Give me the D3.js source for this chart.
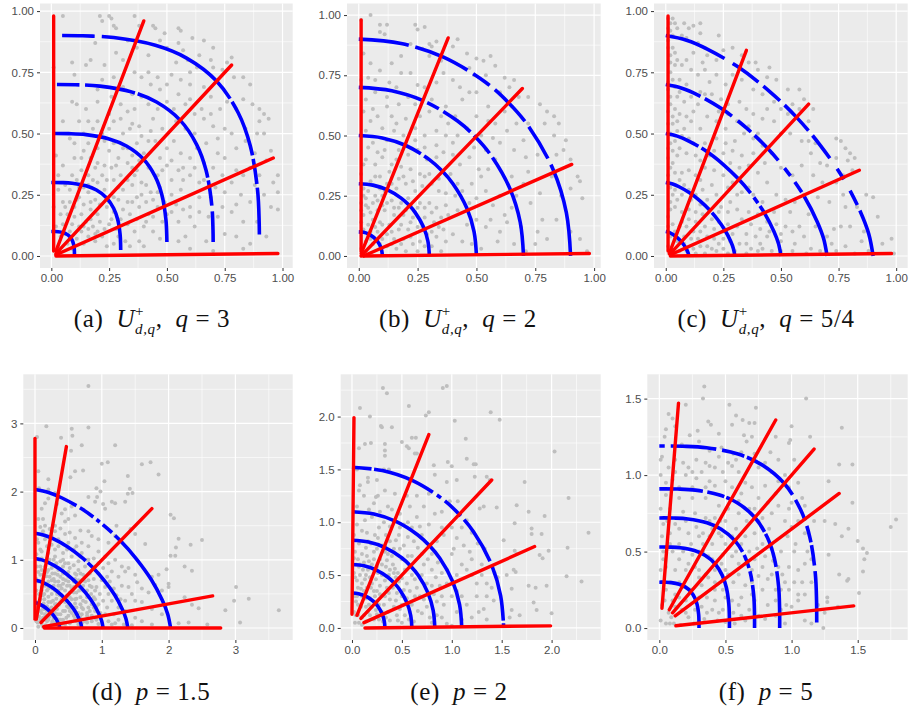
<!DOCTYPE html>
<html>
<head>
<meta charset="utf-8">
<script src="https://cdn.jsdelivr.net/npm/d3@7"></script>
<style>
  html, body { margin: 0; background: #fff; }
  svg { display: block; }
  .tick text { font-family: 'Liberation Sans', sans-serif; font-size: 11.5px; fill: #4d4d4d; }
  .tick line { stroke: #333; stroke-width: 1px; }
  .caption text { font-family: 'Liberation Serif', serif; fill: #111; }
</style>
</head>
<body>
<svg id="chart" width="909" height="711"></svg>
<script>
// grey sample points
var pointsA = [[.05,.98],[.21,.98],[.22,.96],[.25,.98],[.26,.97],[.27,.94],[.28,.93],[.36,.98],[.38,.94],[.44,.94],[.45,.93],[.49,.91],[.55,.93],[.56,.92],[.61,.89],[.55,.87],[.66,.88],[.7,.85],[.69,.8],[.78,.81],[.76,.79],[.47,.88],[.5,.85],[.57,.84],[.59,.8],[.64,.82],[.63,.77],[.7,.77],[.74,.76],[.79,.73],[.83,.73],[.86,.7],[.83,.64],[.87,.62],[.9,.6],[.92,.58],[.9,.55],[.94,.56],[.92,.5],[.95,.43],[.89,.5],[.84,.52],[.8,.6],[.76,.63],[.73,.6],[.69,.65],[.66,.69],[.6,.7],[.56,.72],[.52,.74],[.5,.7],[.47,.68],[.43,.7],[.39,.73],[.36,.75],[.31,.8],[.28,.83],[.19,.87],[.17,.8],[.23,.78],[.09,.79],[.01,.77],[.1,.74],[.15,.78],[.27,.73],[.2,.68],[.2,.63],[.09,.63],[.11,.62],[.05,.55],[.16,.55],[.15,.6],[.25,.58],[.3,.62],[.33,.59],[.36,.6],[.39,.65],[.42,.62],[.46,.6],[.5,.63],[.53,.6],[.58,.62],[.62,.58],[.66,.56],[.7,.53],[.75,.52],[.78,.5],[.84,.47],[.88,.42],[.93,.39],[.96,.3],[.98,.33],[.98,.26],[.95,.2],[.98,.19],[.88,.29],[.83,.33],[.8,.35],[.75,.4],[.72,.42],[.67,.46],[.62,.5],[.58,.52],[.54,.55],[.48,.52],[.44,.56],[.38,.53],[.34,.52],[.31,.5],[.27,.55],[.22,.5],[.18,.52],[.1,.46],[.08,.48],[.02,.41],[.05,.37],[.1,.4],[.14,.43],[.17,.4],[.2,.38],[.25,.43],[.29,.4],[.33,.44],[.37,.46],[.4,.42],[.45,.47],[.5,.44],[.53,.47],[.56,.42],[.6,.4],[.63,.44],[.66,.38],[.7,.36],[.74,.33],[.78,.3],[.82,.25],[.86,.22],[.78,.18],[.83,.14],[.8,.08],[.86,.05],[.83,.03],[.75,.09],[.72,.16],[.69,.24],[.64,.3],[.6,.33],[.55,.35],[.5,.37],[.46,.33],[.42,.36],[.38,.39],[.35,.36],[.3,.33],[.26,.36],[.22,.33],[.18,.31],[.14,.28],[.11,.31],[.08,.27],[.12,.24],[.16,.26],[.19,.23],[.23,.27],[.27,.24],[.31,.27],[.35,.29],[.39,.3],[.43,.26],[.47,.28],[.52,.25],[.56,.27],[.6,.2],[.64,.18],[.62,.12],[.67,.06],[.58,.08],[.55,.14],[.5,.17],[.46,.2],[.42,.17],[.38,.2],[.35,.22],[.31,.19],[.27,.18],[.24,.2],[.2,.17],[.17,.19],[.13,.17],[.1,.2],[.07,.17],[.05,.13],[.08,.1],[.12,.12],[.15,.14],[.18,.12],[.21,.14],[.25,.13],[.28,.11],[.33,.13],[.36,.1],[.4,.12],[.44,.1],[.47,.07],[.38,.06],[.4,.04],[.32,.06],[.27,.05],[.22,.08],[.19,.06],[.16,.08],[.14,.05],[.11,.07],[.07,.05],[.04,.08],[.03,.04],[.02,.02],[.01,.2],[.02,.12],[.55,.06],[.6,.03],[.7,.02]]
var moreA = [[.13,.35],[.16,.33],[.19,.36],[.23,.37],[.27,.31],[.29,.28],[.33,.31],[.36,.33],[.39,.25],[.41,.22],[.44,.23],[.37,.24],[.33,.22],[.29,.23],[.25,.22],[.21,.21],[.17,.22],[.14,.21],[.11,.23],[.08,.22],[.06,.2],[.04,.17],[.1,.16],[.14,.12],[.17,.15],[.2,.1],[.23,.11],[.26,.15],[.3,.15],[.34,.17],[.37,.15],[.41,.14],[.44,.16],[.48,.14],[.52,.18],[.57,.19],[.6,.16],[.54,.21],[.49,.22],[.46,.26],[.41,.29],[.37,.35],[.33,.38],[.28,.37],[.24,.31],[.2,.3],[.16,.29],[.12,.28],[.09,.33],[.06,.29],[.03,.27],[.05,.22],[.03,.33],[.13,.4],[.16,.46],[.2,.44],[.23,.47],[.27,.46],[.31,.44],[.35,.41],[.42,.47],[.47,.4],[.52,.39],[.57,.36],[.62,.36],[.66,.31],[.71,.28],[.75,.26],[.8,.21],[.74,.2],[.68,.16],[.64,.24],[.57,.31],[.52,.31],[.48,.35],[.43,.51],[.39,.49],[.35,.54],[.3,.56],[.25,.52],[.2,.55],[.14,.5],[.12,.55],[.42,.75],[.46,.73],[.55,.66],[.6,.64],[.65,.6],[.69,.58],[.72,.48],[.8,.44],[.86,.36],[.9,.33],[.92,.25],[.89,.14],[.93,.08],[.35,.66],[.31,.69],[.26,.65],[.22,.72],[.54,.79],[.6,.75],[.42,.82],[.37,.85],[.33,.88],[.13,.1],[.09,.13],[.06,.09],[.16,.11],[.19,.09],[.24,.04],[.29,.08],[.34,.04],[.09,.03]]
var pointsB = [[.05,1],[.01,.98],[.09,.96],[.12,.96],[.09,.93],[.11,.92],[.24,.96],[.25,.94],[.28,.95],[.31,.87],[.3,.88],[.33,.89],[.35,.81],[.3,.83],[.27,.86],[.42,.9],[.4,.87],[.46,.84],[.5,.82],[.47,.78],[.53,.81],[.56,.83],[.58,.79],[.49,.75],[.54,.75],[.62,.74],[.66,.73],[.64,.7],[.6,.68],[.68,.66],[.72,.66],[.77,.63],[.8,.6],[.83,.58],[.79,.55],[.85,.55],[.88,.48],[.84,.42],[.87,.44],[.9,.4],[.93,.33],[.94,.31],[.95,.24],[.9,.28],[.86,.25],[.84,.15],[.9,.1],[.94,.07],[.97,.02],[.78,.15],[.76,.1],[.8,.07],[.75,.05],[.62,.17],[.6,.1],[.59,.06],[.63,.14],[.67,.25],[.7,.3],[.72,.35],[.71,.41],[.7,.48],[.66,.44],[.72,.55],[.67,.55],[.63,.52],[.6,.47],[.58,.4],[.55,.36],[.52,.33],[.48,.3],[.47,.41],[.42,.5],[.4,.47],[.4,.42],[.43,.38],[.46,.53],[.5,.58],[.55,.62],[.44,.65],[.47,.68],[.4,.73],[.36,.76],[.33,.72],[.28,.7],[.22,.76],[.18,.76],[.13,.72],[.09,.77],[.04,.74],[.01,.73],[.03,.65],[.07,.68],[.12,.66],[.17,.63],[.24,.63],[.3,.6],[.35,.58],[.38,.55],[.33,.52],[.28,.5],[.24,.53],[.2,.57],[.14,.58],[.1,.53],[.05,.56],[.02,.6],[.01,.5],[.06,.47],[.12,.48],[.17,.44],[.21,.42],[.25,.44],[.29,.4],[.33,.41],[.36,.43],[.39,.34],[.42,.3],[.37,.26],[.34,.32],[.3,.34],[.26,.34],[.22,.36],[.18,.37],[.14,.38],[.1,.41],[.07,.38],[.03,.4],[.01,.34],[.05,.31],[.09,.33],[.12,.3],[.16,.28],[.2,.3],[.24,.27],[.27,.29],[.02,.28],[.03,.24],[.01,.22],[.07,.25],[.1,.25],[.14,.23],[.18,.22],[.21,.24],[.25,.2],[.3,.22],[.33,.2],[.38,.17],[.42,.19],[.46,.13],[.5,.15],[.54,.12],[.44,.06],[.4,.09],[.36,.11],[.32,.14],[.28,.16],[.23,.16],[.19,.17],[.15,.17],[.11,.19],[.08,.19],[.04,.2],[.02,.17],[.06,.15],[.09,.14],[.13,.13],[.17,.11],[.21,.11],[.25,.12],[.29,.09],[.33,.08],[.37,.06],[.31,.04],[.26,.06],[.23,.05],[.19,.07],[.15,.07],[.12,.09],[.08,.1],[.05,.1],[.02,.11],[.01,.14],[.03,.06],[.06,.05],[.09,.05],[.12,.04],[.16,.03],[.2,.02],[.25,.02],[.35,.02],[.48,.05],[.52,.03],[.66,.05],[.71,.02],[.01,.03],[.03,.02]]
var moreB = [[.02,.25],[.04,.27],[.01,.19],[.03,.21],[.05,.18],[.06,.22],[.08,.23],[.1,.21],[.12,.22],[.15,.2],[.17,.2],[.2,.19],[.22,.21],[.26,.22],[.28,.2],[.31,.18],[.35,.16],[.09,.28],[.11,.27],[.14,.3],[.17,.32],[.19,.33],[.23,.31],[.28,.33],[.31,.3],[.34,.27],[.37,.21],[.41,.25],[.44,.27],[.47,.22],[.5,.24],[.54,.27],[.57,.21],[.6,.25],[.65,.2],[.51,.36],[.54,.44],[.57,.49],[.52,.5],[.49,.45],[.37,.5],[.33,.46],[.28,.45],[.24,.48],[.19,.5],[.15,.52],[.11,.44],[.08,.43],[.04,.45],[.16,.4],[.13,.35],[.07,.33],[.02,.38],[.08,.58],[.12,.62],[.16,.55],[.21,.66],[.26,.58],[.03,.52],[.06,.61],[.31,.65],[.37,.62],[.41,.58],[.43,.7],[.5,.68],[.55,.56],[.62,.6],[.25,.71],[.16,.7],[.07,.73],[.18,.83],[.14,.8],[.22,.88],[.02,.84],[.05,.8],[.1,.13],[.14,.1],[.18,.13],[.22,.14],[.27,.12],[.31,.1],[.34,.12],[.04,.13],[.07,.12],[.05,.07],[.1,.07],[.14,.05],[.18,.05],[.22,.08],[.28,.04],[.82,.33],[.77,.26],[.73,.22],[.76,.42],[.83,.5],[.65,.62],[.58,.55],[.65,.33],[.56,.15],[.69,.12]]
var pointsC = [[.01,.97],[.02,.95],[.03,.97],[.02,.92],[.04,.95],[.05,.93],[.08,.95],[.1,.93],[.12,.94],[.15,.95],[.07,.9],[.09,.89],[.15,.91],[.01,.88],[.03,.85],[.02,.82],[.14,.87],[.17,.85],[.23,.9],[.18,.82],[.22,.8],[.25,.84],[.29,.85],[.33,.82],[.36,.79],[.39,.79],[.4,.76],[.45,.77],[.44,.73],[.48,.72],[.53,.68],[.58,.68],[.6,.64],[.64,.6],[.62,.55],[.58,.6],[.55,.62],[.53,.58],[.5,.6],[.47,.63],[.42,.66],[.38,.68],[.33,.72],[.29,.74],[.26,.7],[.22,.74],[.17,.76],[.14,.74],[.11,.76],[.07,.78],[.04,.78],[.02,.75],[.03,.72],[.06,.72],[.09,.7],[.01,.68],[.02,.65],[.05,.65],[.08,.63],[.11,.65],[.14,.62],[.17,.66],[.2,.66],[.24,.64],[.27,.62],[.32,.63],[.35,.6],[.38,.58],[.42,.56],[.47,.55],[.5,.5],[.54,.5],[.59,.47],[.62,.47],[.65,.46],[.63,.42],[.67,.38],[.7,.37],[.74,.4],[.74,.48],[.76,.47],[.78,.44],[.8,.42],[.82,.4],[.79,.39],[.81,.35],[.77,.33],[.74,.3],[.77,.25],[.78,.2],[.83,.2],[.87,.25],[.9,.24],[.92,.16],[.86,.1],[.8,.12],[.76,.12],[.73,.11],[.7,.08],[.72,.05],[.78,.04],[.85,.06],[.94,.05],[.98,.07],[.99,.01],[.65,.12],[.62,.17],[.66,.24],[.6,.25],[.56,.22],[.52,.23],[.48,.25],[.44,.3],[.46,.42],[.42,.45],[.38,.48],[.34,.5],[.3,.47],[.26,.52],[.22,.55],[.18,.57],[.15,.52],[.11,.55],[.08,.52],[.05,.55],[.03,.57],[.01,.54],[.02,.5],[.04,.47],[.06,.44],[.09,.42],[.12,.46],[.17,.46],[.21,.43],[.25,.42],[.28,.38],[.32,.36],[.36,.37],[.4,.34],[.36,.28],[.33,.26],[.29,.3],[.25,.33],[.21,.35],[.17,.36],[.13,.33],[.1,.35],[.07,.34],[.03,.38],[.01,.4],[.01,.33],[.02,.28],[.04,.27],[.07,.25],[.1,.27],[.13,.25],[.16,.27],[.18,.23],[.22,.25],[.24,.2],[.28,.22],[.31,.19],[.36,.18],[.4,.17],[.44,.14],[.48,.13],[.52,.12],[.55,.1],[.58,.12],[.6,.08],[.56,.05],[.5,.06],[.44,.08],[.39,.08],[.35,.09],[.31,.12],[.27,.13],[.23,.14],[.2,.15],[.16,.17],[.13,.18],[.1,.19],[.07,.18],[.04,.2],[.02,.22],[.01,.16],[.03,.13],[.06,.12],[.09,.12],[.12,.1],[.15,.1],[.18,.08],[.21,.07],[.25,.07],[.28,.06],[.32,.05],[.37,.03],[.42,.03],[.46,.02],[.3,.02],[.25,.03],[.2,.03],[.15,.04],[.12,.03],[.08,.05],[.05,.06],[.02,.08],[.01,.04],[.03,.02],[.63,.03],[.67,.02]]
var moreC = [[.01,.93],[.03,.9],[.01,.85],[.04,.83],[.02,.79],[.05,.8],[.01,.71],[.04,.69],[.06,.67],[.02,.62],[.04,.6],[.06,.58],[.01,.59],[.03,.54],[.05,.51],[.07,.49],[.02,.46],[.03,.43],[.05,.41],[.01,.44],[.02,.36],[.04,.34],[.06,.31],[.08,.29],[.01,.3],[.03,.25],[.05,.23],[.02,.19],[.01,.12],[.04,.1],[.09,.8],[.12,.83],[.16,.79],[.19,.71],[.12,.59],[.15,.67],[.09,.57],[.1,.48],[.13,.41],[.15,.39],[.19,.41],[.22,.48],[.26,.46],[.29,.43],[.33,.41],[.38,.42],[.43,.38],[.5,.36],[.55,.33],[.59,.37],[.64,.33],[.68,.3],[.71,.22],[.54,.18],[.47,.18],[.42,.22],[.38,.25],[.31,.25],[.27,.28],[.2,.29],[.15,.31],[.11,.23],[.15,.21],[.19,.19],[.23,.18],[.27,.18],[.33,.15],[.37,.13],[.41,.11],[.45,.1],[.5,.09],[.55,.02],[.5,.02],[.4,.02],[.35,.01],[.27,.01],[.22,.02],[.17,.01],[.13,.01],[.09,.02],[.06,.02],[.18,.04],[.23,.05],[.29,.09],[.35,.05],[.41,.05],[.17,.12],[.21,.11],[.25,.1],[.08,.08],[.11,.07],[.14,.07],[.07,.14],[.1,.15],[.13,.14],[.61,.01],[.74,.02],[.82,.01],[.88,.02],[.31,.55],[.36,.53],[.4,.5],[.44,.6],[.27,.58],[.23,.59]]
var pointsD = [[.8,3.55],[.17,2.96],[.03,2.8],[.8,2.94],[.55,2.92],[.56,2.82],[.39,2.79],[.7,2.68],[1.2,2.68],[.54,2.6],[.05,2.3],[.6,2.3],[.72,2.31],[.53,2.21],[1,2.41],[1.09,2.43],[1.6,2.4],[1.73,2.43],[1.85,2.25],[1.39,2.23],[1.42,2.04],[1.46,1.98],[1.39,1.97],[.92,2.05],[.93,1.92],[.98,2],[1.04,2.15],[.2,2.18],[.06,2.05],[.2,2.03],[.3,1.98],[.8,1.92],[.9,1.85],[1.15,1.85],[1.2,1.83],[1.35,1.85],[1.02,1.82],[1.05,1.75],[.2,1.9],[.15,1.83],[.1,1.75],[.33,1.82],[.45,1.74],[.55,1.78],[.6,1.65],[.5,1.6],[.05,1.6],[.15,1.5],[.3,1.5],[.38,1.46],[.45,1.56],[.52,1.4],[.68,1.43],[.8,1.42],[.85,1.35],[.95,1.3],[1.1,1.25],[1.2,1.35],[1.22,1.5],[1.43,1.45],[1.5,1.38],[1.65,1.23],[2.03,1.66],[2.08,1.61],[2.15,1.31],[2.11,1.18],[2.1,1.06],[2.03,1.06],[2.5,1.29],[2.33,1.22],[2.24,.9],[2.35,.84],[1.97,.86],[2,.65],[2,.6],[3.01,.6],[2.98,.4],[3.2,.43],[3.65,.26],[2.85,.26],[3.07,.08],[2.58,.05],[2.3,.08],[2.15,.07],[2.24,.45],[2.35,.34],[2.45,.29],[1.75,.75],[1.85,.78],[1.8,.63],[1.9,.55],[1.7,.52],[1.6,.58],[1.5,.78],[1.53,.67],[1.35,.83],[1.4,.88],[1.3,.9],[1.2,1],[1.1,.95],[1.15,.83],[1.25,.75],[1.3,.62],[1.4,.6],[1.45,.5],[1.5,.4],[1.6,.38],[1.75,.28],[1.9,.2],[1.6,.1],[1.75,.05],[1.5,.15],[1.35,.25],[1.25,.3],[1.15,.4],[1.1,.5],[1.05,.6],[1,.7],[.95,.8],[.9,.9],[.8,1],[.7,1.1],[.62,1.2],[.5,1.25],[.35,1.3],[.25,1.35],[.12,1.42],[.03,1.3],[.08,1.15],[.18,1.2],[.3,1.15],[.42,1.1],[.55,1.05],[.65,.98],[.75,.9],[.82,.8],[.88,.72],[.92,.6],[.97,.5],[1.02,.4],[1.08,.3],[1.18,.2],[1.25,.12],[1.33,.05],[1.45,.04],[1.1,.1],[1,.18],[.9,.25],[.85,.35],[.78,.45],[.72,.55],[.65,.62],[.6,.72],[.5,.82],[.42,.9],[.32,.95],[.22,1],[.1,1.02],[.03,.9],[.1,.85],[.2,.85],[.3,.8],[.38,.75],[.46,.7],[.52,.62],[.58,.52],[.62,.43],[.68,.35],[.72,.28],[.78,.18],[.85,.1],[.95,.06],[1.15,.05],[.7,.07],[.6,.14],[.55,.22],[.5,.3],[.45,.38],[.4,.48],[.35,.55],[.28,.62],[.2,.68],[.12,.72],[.05,.68],[.02,.55],[.1,.55],[.18,.55],[.25,.5],[.32,.43],[.36,.34],[.42,.25],[.47,.15],[.52,.07],[.4,.06],[.34,.13],[.3,.22],[.25,.3],[.2,.38],[.14,.42],[.08,.42],[.02,.38],[.05,.28],[.12,.28],[.18,.25],[.22,.17],[.26,.1],[.18,.1],[.12,.15],[.06,.17],[.02,.18],[.1,.06],[.04,.08],[.05,.02],[.02,.1],[.12,.02],[.22,.03]]
var moreD = [[.06,.5],[.14,.5],[.2,.46],[.27,.4],[.3,.35],[.33,.28],[.38,.2],[.42,.12],[.45,.05],[.33,.05],[.28,.14],[.24,.22],[.18,.32],[.13,.36],[.08,.34],[.03,.32],[.1,.22],[.16,.18],[.2,.12],[.25,.06],[.16,.04],[.08,.12],[.15,.62],[.22,.6],[.3,.55],[.37,.48],[.43,.42],[.48,.32],[.55,.3],[.58,.18],[.62,.1],[.65,.22],[.68,.45],[.62,.52],[.55,.58],[.48,.62],[.42,.65],[.35,.68],[.25,.7],[.17,.76],[.08,.78],[.02,.72],[.05,.82],[.15,.9],[.25,.88],[.35,.85],[.42,.8],[.5,.75],[.58,.68],[.65,.7],[.72,.62],[.78,.55],[.84,.5],[.9,.42],[.95,.35],[.98,.22],[.9,.15],[.82,.25],[.76,.38],[.7,.2],[.65,.05],[.78,.08],[.88,.3],[.85,.6],[.8,.7],[.72,.78],[.65,.85],[.58,.92],[.5,.95],[.42,1],[.3,1.05],[.2,1.1],[.1,1.12],[.02,1.08],[.05,1.25],[.15,1.3],[.25,1.22],[.35,1.2],[.48,1.15],[.58,1.15],[.68,1.05],[.78,1],[.88,1.02],[.95,.95],[1.02,.88],[1.08,.75],[1.12,.68],[1.18,.58],[1.22,.48],[1.28,.42],[1.35,.4],[1.05,1.05],[.95,1.12],[.8,1.2],[.7,1.25],[.6,1.32],[.45,1.38],[.3,1.42],[.22,1.45],[.08,1.48],[.12,1.6],[.4,1.68],[.6,.8],[.68,.8],[.52,.52],[.48,.48],[.6,.42],[.75,.68],[.9,.55],[1.05,.2],[.92,.12],[1.2,.07],[.12,.48],[.35,.62],[.28,.72],[.4,.58],[.55,.42],[.62,.3],[.38,.38],[.45,.25],[.5,.18],[.1,.6],[.2,.58],[.26,.58],[.33,.5],[.4,.42],[.48,.4],[.52,.25],[.58,.3],[.62,.2],[.68,.15],[.74,.1],[.8,.3],[.72,.4],[.66,.55],[.58,.6],[.5,.68],[.42,.72],[.34,.78],[.26,.8],[.18,.82],[.08,.9],[.12,.78],[.22,.75],[.3,.68],[.38,.62],[.45,.55],[.52,.45],[.6,.36],[.7,.3],[.78,.22],[.85,.18],[.92,.32],[.88,.45],[.82,.62],[.7,.7],[.62,.78],[.52,.88],[.45,.95],[.38,.98],[.28,1],[.18,1.02],[.06,1],[.15,.2],[.22,.28],[.28,.25],[.34,.2],[.15,.28],[.08,.25],[.3,.07],[.38,.12],[.24,.38],[.32,.35]]
var pointsE = [[.31,2.27],[.35,2.22],[.57,2.1],[.91,2.27],[.95,2.29],[.08,2.08],[.18,2],[.74,2.01],[.77,2.04],[1.39,2.04],[1.48,1.97],[1.03,1.96],[.29,1.91],[.3,1.9],[.4,1.9],[.6,1.8],[.64,1.8],[.5,1.76],[.55,1.72],[.57,1.7],[.65,1.65],[.63,1.65],[1.14,1.79],[1.15,1.6],[.19,1.75],[.13,1.74],[.07,1.7],[.33,1.74],[.33,1.68],[.33,1.63],[.37,1.5],[.32,1.5],[.05,1.5],[.16,1.42],[.16,1.38],[.08,1.35],[.07,1.3],[.25,1.4],[.33,1.3],[.24,1.24],[.26,1.25],[.43,1.27],[.55,1.25],[.65,1.25],[.77,1.27],[.83,1.45],[.82,1.54],[.96,1.57],[1.0,1.53],[.95,1.38],[1.05,1.4],[1.22,1.55],[1.24,1.55],[1.23,1.43],[1.35,1.43],[1.38,1.4],[1.73,1.38],[1.65,1.16],[1.45,1.14],[1.28,1.13],[1.32,1.15],[1.06,1.2],[.98,1.2],[2.03,1.67],[2.17,1.23],[2.37,.9],[2.16,.76],[2.15,.49],[2.3,.44],[1.93,1.06],[1.77,1.1],[1.63,.99],[1.8,.94],[1.8,.89],[1.9,.89],[1.52,.83],[1.63,.73],[1.65,.7],[1.88,.69],[1.97,.73],[1.91,.66],[1.95,.4],[1.77,.4],[1.84,.38],[1.82,.24],[1.85,.17],[2,.14],[1.68,.12],[1.6,.37],[1.55,.5],[1.62,.55],[1.64,.53],[1.43,.52],[1.46,.48],[1.4,.38],[1.35,.3],[1.42,.26],[1.32,.18],[1.27,.15],[1.35,.08],[1.58,.1],[1.6,.17],[1.25,.42],[1.3,.5],[1.2,.5],[1.15,.55],[1.2,.65],[1.3,.6],[1.33,.75],[1.26,.8],[1.2,.9],[1.1,.95],[1.05,.85],[1,.7],[.95,.55],[.95,.42],[1.05,.35],[1.1,.3],[1.15,.22],[1.1,.08],[1,.02],[.9,.1],[.85,.25],[.8,.4],[.8,.55],[.8,.7],[.85,.82],[.9,.95],[.83,1.08],[.72,1.15],[.65,1.05],[.6,.95],[.7,.88],[.66,.76],[.6,.68],[.72,.6],[.7,.5],[.65,.38],[.72,.27],[.7,.14],[.62,.06],[.53,.12],[.55,.28],[.55,.42],[.53,.55],[.5,.65],[.48,.75],[.47,.88],[.42,1],[.48,1.08],[.36,1.15],[.22,1.18],[.12,1.25],[.05,1.15],[.2,1.05],[.13,1.02],[.27,.95],[.34,.88],[.1,.92],[.05,.98],[.02,.88],[.16,.82],[.25,.75],[.33,.72],[.4,.68],[.43,.56],[.4,.45],[.45,.33],[.42,.2],[.38,.07],[.3,.15],[.33,.3],[.28,.4],[.3,.5],[.25,.58],[.17,.63],[.1,.7],[.03,.72],[.04,.6],[.11,.55],[.18,.48],[.22,.35],[.2,.2],[.22,.08],[.12,.12],[.14,.28],[.1,.42],[.03,.48],[.06,.38],[.03,.3],[.06,.22],[.04,.12],[.03,.05],[.1,.03],[.14,.06],[.07,.05],[.02,.15],[.15,.38],[.25,.25],[.5,.05],[.8,.05],[.95,.04]]
var moreE = [[.08,.5],[.13,.46],[.2,.42],[.24,.46],[.28,.32],[.35,.38],[.38,.27],[.36,.15],[.27,.08],[.16,.15],[.09,.2],[.05,.3],[.12,.35],[.18,.28],[.24,.17],[.31,.06],[.45,.12],[.5,.22],[.47,.44],[.37,.5],[.34,.58],[.41,.6],[.46,.52],[.5,.47],[.58,.35],[.6,.22],[.57,.08],[.66,.16],[.75,.2],[.78,.1],[.82,.32],[.88,.4],[.9,.52],[.86,.62],[.76,.65],[.7,.7],[.62,.82],[.56,.86],[.52,.78],[.44,.83],[.38,.82],[.3,.78],[.22,.72],[.14,.76],[.07,.8],[.02,.66],[.06,.65],[.12,.62],[.2,.6],[.28,.65],[.35,.64],[.15,.9],[.23,.88],[.32,1],[.38,.96],[.56,1],[.68,.96],[.77,.98],[.92,.88],[1,.95],[1.12,.78],[1.18,.72],[1.1,.6],[1.05,.5],[1,.3],[.92,.22],[.85,.12],[1.05,.15],[1.2,.1],[1.25,.3],[1.35,.42],[.58,.58],[.63,.46],[.68,.3],[.75,.42],[.84,.48],[.9,.3],[.48,.18],[.44,.26],[.52,.36],[.26,.52],[.22,.55],[.16,.55],[.08,.6],[.1,.3],[.17,.22],[.06,.12],[.14,.2],[.25,.35],[.33,.45],[.36,.7],[.42,.75],[.56,.68],[.6,.5],[.17,1.12],[.28,1.1],[.4,1.12],[.58,1.15],[.9,1.1],[1.15,1.02],[1.02,.75],[.48,.95],[.52,.98],[.05,.45],[.09,.37],[.14,.5],[.19,.38],[.23,.3],[.27,.22],[.32,.22],[.37,.33],[.41,.38],[.44,.48],[.38,.55],[.3,.6],[.22,.65],[.15,.68],[.07,.58],[.02,.52],[.04,.25],[.1,.1],[.18,.12],[.25,.13],[.34,.1],[.46,.07],[.58,.15],[.63,.3],[.5,.3],[.42,.52],[.33,.78],[.26,.85],[.19,.8]]
var pointsF = [[.34,1.58],[.33,1.5],[1.11,1.5],[.2,1.46],[.53,1.46],[.73,1.44],[.1,1.37],[.07,1.4],[.12,1.32],[.37,1.35],[.39,1.33],[.58,1.39],[.55,1.33],[.63,1.36],[.68,1.34],[.72,1.34],[1.0,1.32],[1.38,1.31],[.05,1.3],[.04,1.25],[.29,1.29],[.45,1.27],[.64,1.26],[.66,1.22],[.7,1.25],[.88,1.25],[1.14,1.25],[.23,1.26],[.17,1.2],[.3,1.22],[.99,1.23],[.98,1.21],[.84,1.15],[.02,1.12],[.01,1.1],[.56,1.14],[.58,1.1],[.52,1.08],[.55,1.06],[.07,1.05],[.18,1.08],[.22,1.05],[.35,1.08],[.38,1.06],[.48,1.02],[.6,1.02],[.75,1.05],[.85,1.02],[.95,1],[1.05,.95],[1.02,1.1],[1.28,.96],[1.36,1.07],[1.46,1.07],[1.46,.82],[.01,1],[.1,.97],[.2,1],[.28,.98],[.38,.96],[.42,.93],[.5,.96],[.65,.95],[.7,.92],[.8,.93],[.88,.88],[1,.82],[1.08,.85],[1.1,.8],[1.17,.7],[1.25,.7],[1.33,.68],[1.38,.6],[1.43,.65],[1.5,.57],[1.54,.52],[1.57,.49],[1.55,.45],[1.54,.37],[1.51,.23],[1.75,.66],[1.79,.71],[1.43,.32],[1.42,.31],[1.28,.48],[1.36,.35],[1.27,.2],[1.27,.17],[1.35,.14],[1.25,.1],[1.24,0],[1.15,.03],[1.1,.05],[1.2,.15],[1.15,.3],[1.08,.3],[1.1,.42],[1.02,.5],[1.03,.55],[.97,.6],[1,.66],[.95,.7],[.85,.75],[.83,.65],[.75,.7],[.68,.78],[.6,.83],[.52,.85],[.45,.8],[.35,.85],[.25,.85],[.15,.85],[.05,.87],[.01,.78],[.08,.78],[.18,.76],[.27,.75],[.35,.72],[.42,.72],[.5,.7],[.58,.65],[.65,.6],[.72,.62],[.78,.55],[.85,.52],[.92,.5],[.98,.4],[.93,.35],[.98,.25],[1,.14],[.92,.12],[.88,.25],[.85,.35],[.78,.4],[.72,.45],[.65,.42],[.58,.5],[.5,.55],[.45,.62],[.38,.6],[.3,.6],[.22,.62],[.15,.65],[.08,.62],[.02,.6],[.03,.5],[.1,.5],[.18,.5],[.25,.48],[.33,.5],[.4,.45],[.47,.42],[.52,.35],[.6,.35],[.65,.28],[.7,.3],[.78,.25],[.82,.15],[.75,.08],[.68,.12],[.62,.08],[.55,.18],[.48,.25],[.42,.3],[.35,.35],[.27,.4],[.2,.38],[.12,.38],[.05,.4],[.01,.38],[.05,.25],[.12,.22],[.18,.27],[.24,.25],[.32,.28],[.36,.2],[.42,.18],[.48,.12],[.44,.05],[.36,.1],[.32,.14],[.27,.12],[.22,.07],[.17,.12],[.12,.14],[.07,.1],[.02,.15],[.01,.05],[.05,.03],[.11,.03],[.16,.02],[.09,.07],[.57,.03],[.45,.1],[.5,.04],[.3,.04],[.95,.03],[1.05,.18]]
var moreF = [[.06,.7],[.12,.68],[.2,.7],[.28,.66],[.33,.62],[.4,.65],[.47,.6],[.55,.6],[.62,.55],[.68,.5],[.74,.52],[.8,.47],[.86,.44],[.9,.4],[.95,.3],[1.02,.3],[1.05,.22],[.96,.15],[.88,.08],[.8,.06],[.72,.18],[.62,.2],[.56,.3],[.5,.38],[.43,.42],[.37,.47],[.3,.5],[.24,.55],[.15,.55],[.08,.55],[.03,.45],[.15,.45],[.22,.42],[.3,.38],[.37,.33],[.42,.25],[.5,.2],[.56,.1],[.6,.15],[.65,.05],[.7,.22],[.75,.34],[.82,.32],[.88,.18],[.92,.25],[.7,.38],[.6,.42],[.55,.47],[.48,.48],[.4,.55],[.33,.55],[.38,.7],[.46,.7],[.52,.78],[.6,.75],[.66,.7],[.72,.78],[.78,.72],[.82,.82],[.9,.8],[.98,.78],[1.05,.7],[1.1,.62],[1.12,.5],[1.15,.45],[1.05,.38],[1.1,.22],[.35,.92],[.25,.92],[.15,.92],[.05,.95],[.12,1.02],[.25,1.02],[.32,1.02],[.42,1.05],[.45,1.12],[.55,.92],[.62,.88],[.75,.85],[.9,.96],[.98,.92],[.8,1.08],[.9,1.1],[.72,1.14],[.62,1.15],[.47,1.18],[.38,1.16],[.28,1.1],[.12,1.1],[.03,.68],[.02,.3],[.08,.3],[.15,.3],[.1,.18],[.15,.2],[.2,.18],[.3,.2],[.34,.06],[.4,.12],[.26,.03],[.08,.03],[.2,.1],[.04,.18],[.3,.33],[.42,.38]]

// unit contours, top of the y axis round to the x axis
var contourSquare = [[0,1],[.15,.999],[.3,.991],[.5,.956],[.65,.898],[.794,.794],[.898,.65],[.956,.5],[.991,.3],[.999,.15],[1,0]]
var contourCircle = [[0,1],[.2,.98],[.4,.917],[.6,.8],[.707,.707],[.8,.6],[.917,.4],[.98,.2],[1,0]]
var contourFlat = [[0,1],[.1,.979],[.2,.939],[.35,.857],[.5,.747],[.63,.63],[.747,.5],[.857,.35],[.939,.2],[.979,.1],[1,0]]

// blue contours: radius, then the visible runs as fractions of the contour length
var arcsA = [[.1,[[0,1]]],[.3,[[0,.95]]],[.5,[[.01,.93]]],[.7,[[.02,.1],[.12,.3],[.31,.72],[.73,.82],[.84,.95]]],[.9,[[.03,.12],[.14,.55],[.56,.72],[.73,.8],[.81,.94]]]]
var arcsB = [[.1,[[0,1]]],[.3,[[0,1]]],[.5,[[0,.35],[.37,1]]],[.7,[[0,.25],[.27,.32],[.34,.47],[.49,.58],[.6,1]]],[.9,[[0,.15],[.17,.34],[.36,.42],[.44,.57],[.59,.7],[.72,1]]]]
var arcsC = [[.1,[[0,1]]],[.3,[[0,.5],[.53,1]]],[.5,[[0,.2],[.22,.6],[.63,.67],[.69,1]]],[.7,[[0,.15],[.17,.3],[.33,.4],[.42,.56],[.6,.64],[.67,.72],[.74,1]]],[.9,[[0,.2],[.23,.33],[.35,.42],[.44,.55],[.57,.66],[.7,.74],[.78,.83],[.85,1]]]]
var arcsD = [[.37,[[0,1]]],[.7,[[0,1]]],[1.02,[[0,1]]],[1.39,[[0,.42],[.44,1]]],[2.03,[[0,.22],[.24,.32],[.34,.36],[.38,.44],[.46,1]]]]
var arcsE = [[.33,[[0,1]]],[.6,[[0,1]]],[.83,[[0,1]]],[1.1,[[0,1]]],[1.52,[[0,.08],[.09,.35],[.37,.39],[.41,.5],[.52,.72],[.74,.97],[.98,1]]]]
var arcsF = [[.3,[[0,1]]],[.53,[[0,1]]],[.72,[[0,.55],[.57,.65],[.67,.73],[.75,1]]],[.91,[[0,.2],[.22,.3],[.31,.55],[.56,.72],[.74,1]]],[1.19,[[0,.02],[.04,.2],[.22,.3],[.31,.52],[.54,.62],[.64,.7],[.71,.78],[.8,.98]]]]

// red rays as x0, y0, x1, y1
var raysA = [[.01,.02,.01,.98],[.02,.02,.4,.96],[.02,.01,.78,.78],[.02,.005,.96,.4],[.02,0,.98,.01]]
var raysB = [[.01,.02,.01,.98],[.01,.01,.38,.905],[.01,0,.695,.695],[.02,0,.905,.38],[.02,0,.98,.01]]
var raysC = [[.01,.02,.01,.98],[.015,.01,.35,.84],[.02,.01,.62,.62],[.02,.005,.84,.35],[.02,0,.98,.01]]
var raysD = [[0,.13,0,2.78],[.02,.13,.47,2.66],[.09,.08,1.75,1.75],[.13,.02,2.66,.47],[.14,0,2.78,0]]
var raysE = [[0,.13,.02,1.99],[.05,.12,.77,1.83],[.09,.09,1.4,1.4],[.12,.05,1.83,.77],[.13,0,1.99,.02]]
var raysF = [[.02,.13,.145,1.47],[.075,.12,.88,1.36],[.1,.1,1.17,1.17],[.12,.08,1.36,.88],[.125,.015,1.47,.145]]

var ticksU = [0, .25, .5, .75, 1]
var ticksD = [0, 1, 2, 3]
var ticksE = [0, .5, 1, 1.5, 2]
var ticksF = [0, .5, 1, 1.5]

var panels = [
  { points: pointsA.concat(moreA), arcs: arcsA, rays: raysA, contour: contourSquare, ticksX: ticksU, ticksY: ticksU, fmt: '.2f',
    box: [40, 292.7, 3.5, 268], domX: [-.049, 1.044], domY: [-.049, 1.031] },
  { points: pointsB.concat(moreB), arcs: arcsB, rays: raysB, contour: contourCircle, ticksX: ticksU, ticksY: ticksU, fmt: '.2f',
    box: [347, 600.7, 3.5, 268], domX: [-.05, 1.028], domY: [-.05, 1.048] },
  { points: pointsC.concat(moreC), arcs: arcsC, rays: raysC, contour: contourFlat, ticksX: ticksU, ticksY: ticksU, fmt: '.2f',
    box: [654, 907.7, 3.5, 268], domX: [-.051, 1.05], domY: [-.049, 1.031] },
  { points: pointsD.concat(moreD), arcs: arcsD, rays: raysD, contour: contourFlat, ticksX: ticksD, ticksY: ticksD, fmt: '.0f',
    box: [23.3, 292.7, 374.3, 640], domX: [-.175, 3.858], domY: [-.176, 3.72] },
  { points: pointsE.concat(moreE), arcs: arcsE, rays: raysE, contour: contourCircle, ticksX: ticksE, ticksY: ticksE, fmt: '.1f',
    box: [340.7, 600.7, 374.3, 640], domX: [-.113, 2.492], domY: [-.114, 2.4] },
  { points: pointsF.concat(moreF), arcs: arcsF, rays: raysF, contour: contourSquare, ticksX: ticksF, ticksY: ticksF, fmt: '.1f',
    box: [647.3, 907.7, 374.3, 640], domX: [-.091, 1.878], domY: [-.078, 1.659] }
]

var svg = d3.select('#chart')

// gridline halfway between the major ones, out to the panel edge
function minorTicks (ticks, dom) {
  var step = ticks[1] - ticks[0]
  return d3.range(ticks[0] - step / 2, dom[1], step).filter((v) => v > dom[0])
}

function drawPanel (p) {
  var g = svg.append('g')
  var x = d3.scaleLinear().domain(p.domX).range([p.box[0], p.box[1]])
  var y = d3.scaleLinear().domain(p.domY).range([p.box[3], p.box[2]])

  g.append('rect')
    .attr('x', p.box[0])
    .attr('y', p.box[2])
    .attr('width', p.box[1] - p.box[0])
    .attr('height', p.box[3] - p.box[2])
    .attr('fill', '#ebebeb')

  var grid = g.append('g').attr('stroke', '#fff').attr('fill', 'none')
  function gridLines (values, horizontal, width) {
    grid.selectAll(null).data(values).enter().append('line')
      .attr('stroke-width', width)
      .attr('x1', (d) => horizontal ? p.box[0] : x(d))
      .attr('x2', (d) => horizontal ? p.box[1] : x(d))
      .attr('y1', (d) => horizontal ? y(d) : p.box[2])
      .attr('y2', (d) => horizontal ? y(d) : p.box[3])
  }
  gridLines(minorTicks(p.ticksX, p.domX), false, 0.6)
  gridLines(minorTicks(p.ticksY, p.domY), true, 0.6)
  gridLines(p.ticksX, false, 1.2)
  gridLines(p.ticksY, true, 1.2)

  var fmt = d3.format(p.fmt)
  g.append('g')
    .attr('transform', 'translate(0,' + p.box[3] + ')')
    .call(d3.axisBottom(x).tickValues(p.ticksX).tickFormat(fmt).tickSize(3).tickPadding(3))
    .call((s) => s.select('.domain').remove())
  g.append('g')
    .attr('transform', 'translate(' + p.box[0] + ',0)')
    .call(d3.axisLeft(y).tickValues(p.ticksY).tickFormat(fmt).tickSize(3).tickPadding(3))
    .call((s) => s.select('.domain').remove())

  g.append('g').selectAll('circle').data(p.points).enter().append('circle')
    .attr('cx', (d) => x(d[0]))
    .attr('cy', (d) => y(d[1]))
    .attr('r', 2)
    .attr('fill', '#bebebe')

  // contours are dashed from their runs once the path length is known
  g.append('g').selectAll('path').data(p.arcs).enter().append('path')
    .attr('fill', 'none')
    .attr('stroke', '#0000ff')
    .attr('stroke-width', 3.6)
    .attr('d', (d) => d3.line()
      .x((c) => x(c[0] * d[0]))
      .y((c) => y(c[1] * d[0]))
      .curve(d3.curveCatmullRom)(p.contour))
    .each(function (d) {
      var len = this.getTotalLength()
      var dash = [0]
      var at = 0
      d[1].forEach((run) => {
        dash.push((run[0] - at) * len, (run[1] - run[0]) * len)
        at = run[1]
      })
      dash.push(len)
      d3.select(this).attr('stroke-dasharray', dash.join(' '))
    })

  g.append('g').selectAll('line').data(p.rays).enter().append('line')
    .attr('x1', (d) => x(d[0]))
    .attr('y1', (d) => y(d[1]))
    .attr('x2', (d) => x(d[2]))
    .attr('y2', (d) => y(d[3]))
    .attr('stroke', '#ff0000')
    .attr('stroke-width', 3.4)
    .attr('stroke-linecap', 'round')
}

panels.forEach(drawPanel)

// caption pieces: text, italic, size, baseline shift, and whether the pen stays put
var uPart = [
  { t: 'U', i: true },
  { t: '+', size: 15, dy: -11, stay: true },
  { t: 'd,q', i: true, size: 15, dy: 7 }
]
var captions = [
  { cx: 152, y: 327, parts: [{ t: '(a)\u2002' }].concat(uPart, [{ t: ',\u2002' }, { t: 'q', i: true }, { t: ' = 3' }]) },
  { cx: 458, y: 327, parts: [{ t: '(b)\u2002' }].concat(uPart, [{ t: ',\u2002' }, { t: 'q', i: true }, { t: ' = 2' }]) },
  { cx: 766, y: 327, parts: [{ t: '(c)\u2002' }].concat(uPart, [{ t: ',\u2002' }, { t: 'q', i: true }, { t: ' = 5/4' }]) },
  { cx: 151, y: 700, parts: [{ t: '(d)\u2002' }, { t: 'p', i: true }, { t: ' = 1.5' }] },
  { cx: 459, y: 700, parts: [{ t: '(e)\u2002' }, { t: 'p', i: true }, { t: ' = 2' }] },
  { cx: 766, y: 700, parts: [{ t: '(f)\u2002' }, { t: 'p', i: true }, { t: ' = 5' }] }
]

captions.forEach((c) => {
  var g = svg.append('g').attr('class', 'caption')
  var pen = 0
  c.parts.forEach((part) => {
    var t = g.append('text')
      .attr('xml:space', 'preserve')
      .style('white-space', 'pre')
      .style('letter-spacing', '0.6px')
      .attr('x', pen)
      .attr('y', c.y + (part.dy || 0))
      .attr('font-size', part.size || 25)
      .attr('font-style', part.i ? 'italic' : 'normal')
      .text(part.t)
    if (!part.stay) pen += t.node().getComputedTextLength()
  })
  g.attr('transform', 'translate(' + (c.cx - pen / 2) + ',0)')
})
</script>
</body>
</html>
